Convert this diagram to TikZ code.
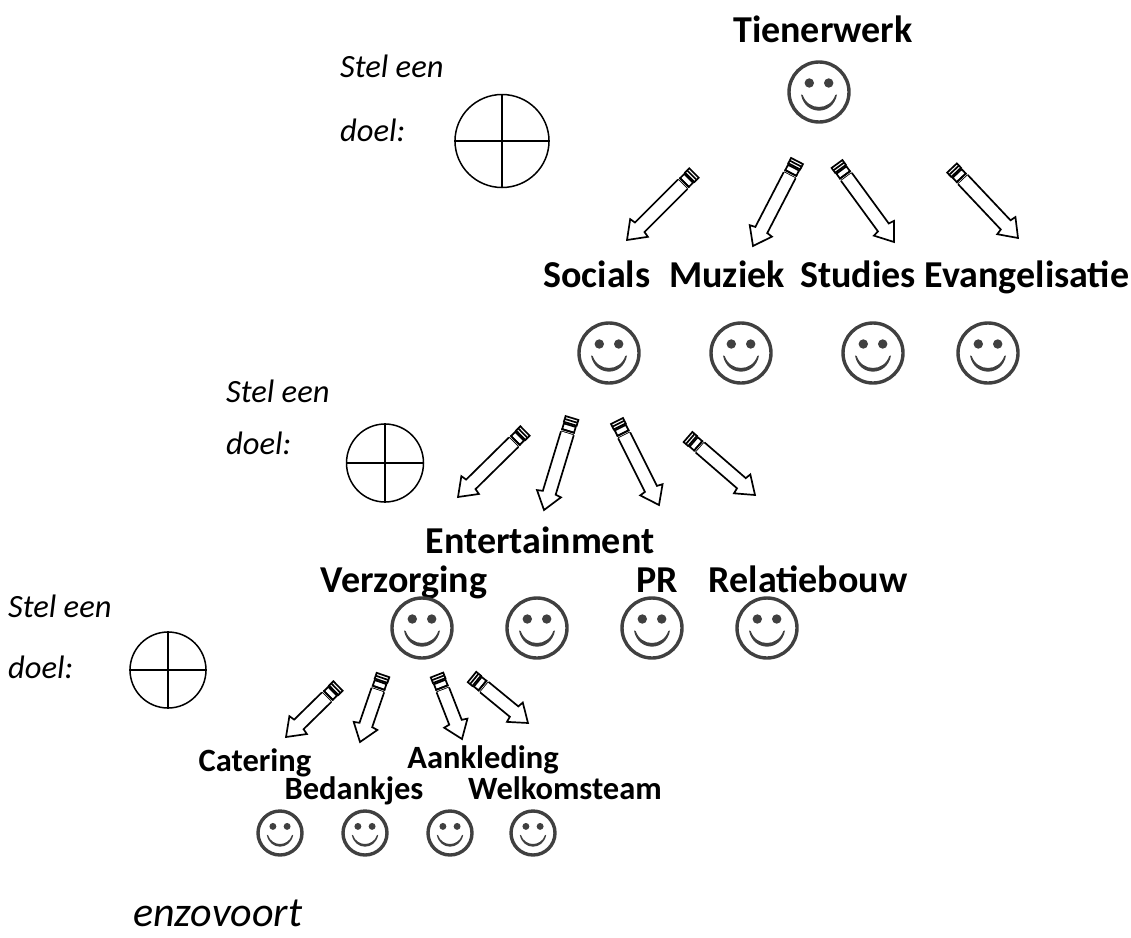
\documentclass[tikz,border=0pt]{standalone}
\usepackage{fontspec}
\setmainfont{Carlito}
\usetikzlibrary{shapes.geometric}
\newcommand{\Px}[1]{\fontsize{#1}{#1}\selectfont}
\newcommand{\penarrow}[7]{% name, x1,y1,x2,y2, head half width, shaft half width
  \coordinate (#1-tail) at (#2,-#3);
  \coordinate (#1-tip) at (#4,-#5);
  \pgfmathsetmacro\pang{atan2(-(#5-#3),#4-#2)}
  \pgfmathsetmacro\plen{veclen(#5-#3,#4-#2)}
  \begin{scope}[shift={(#1-tail)},rotate=\pang]
    \draw[penline] (0,-#7) rectangle (6,#7);
    \draw[penline] (3,-#7) -- (3,#7);
    \draw[penline] (7.5,-#7+0.5) rectangle (13.5,#7-0.5);
    \draw[penline] (13.5,-#7-0.3) -- (13.5,#7+0.3);
    \draw[penline] (16,#7) -- (16,-#7);
    \draw[penline] (16,#7) -- ({\plen-18},#7) -- ({\plen-17},#6) -- (\plen,0) -- ({\plen-17},-#6) -- ({\plen-18},-#7) -- (16,-#7);
  \end{scope}}
\newcommand{\smiley}[4]{% name,x,y,r
  \node[smileface,minimum size=#4*2pt] (#1) at (#2,-#3) {};
  \begin{scope}[shift={(#1.center)},x=#4/30*1pt,y=#4/30*1pt]
    \fill[smilecol] (-9.7,9) circle (4.7);
    \fill[smilecol] (9.7,9) circle (4.7);
    \fill[smilecol] (-18,-2.5) .. controls (-14,-24) and (14,-24) .. (18,-2.5)
       -- (16.3,-3) .. controls (11,-19) and (-11,-19) .. (-16.3,-3) -- cycle;
  \end{scope}}
\newcommand{\goalwheel}[5]{% name,x,y,rx,ry
  \node[wheel,minimum width=#4*2pt,minimum height=#5*2pt] (#1) at (#2,-#3) {};
  \draw[wheelline] (#1.north) -- (#1.south);
  \draw[wheelline] (#1.west) -- (#1.east);}
\definecolor{smilecol}{HTML}{404040}
\tikzset{
  x=1pt,y=1pt,
  penline/.style={draw=black,line width=1.7pt,line join=miter,fill=white},
  wheelline/.style={draw=black,line width=1.5pt},
  smileface/.style={circle,draw=smilecol,line width=3.4pt,inner sep=0pt,fill=white},
  wheel/.style={ellipse,draw=black,line width=1.5pt,inner sep=0pt},
  bigname/.style={anchor=base,inner sep=0pt,font=\Px{38}\bfseries},
  smallname/.style={anchor=base,inner sep=0pt,font=\Px{32.5}\bfseries},
  goal/.style={anchor=base west,inner sep=0pt,font=\Px{32.5}\itshape},
}
\begin{document}
\begin{tikzpicture}
\useasboundingbox (0,0) rectangle (1131,-937);
% names
\node[bigname] (tienerwerk) at (823,-42) {Tienerwerk};
\node[bigname] (socials) at (597,-287) {Socials};
\node[bigname] (muziek) at (727,-287) {Muziek};
\node[bigname] (studies) at (858,-287) {Studies};
\node[bigname] (evang) at (1027,-287) {Evangelisatie};
\node[bigname] (entert) at (540,-553) {Entertainment};
\node[bigname] (verz) at (404,-592) {Verzorging};
\node[bigname] (pr) at (657,-592) {PR};
\node[bigname] (relatie) at (808,-592) {Relatiebouw};
\node[smallname] (catering) at (255,-771) {Catering};
\node[smallname] (aankleding) at (483,-768) {Aankleding};
\node[smallname] (bedankjes) at (354,-799) {Bedankjes};
\node[smallname] (welkom) at (565,-799) {Welkomsteam};
% goals
\node[goal] (g1a) at (340,-77) {Stel een};
\node[goal] (g1b) at (340,-141) {doel:};
\node[goal] (g2a) at (226,-402) {Stel een};
\node[goal] (g2b) at (226,-454) {doel:};
\node[goal] (g3a) at (8,-617) {Stel een};
\node[goal] (g3b) at (8,-678) {doel:};
\node[goal,font=\Px{42}\itshape] (more) at (133,-926) {enzovoort};
% wheels
\goalwheel{w1}{502}{141}{47}{46.5}
\goalwheel{w2}{385}{463}{38.5}{39}
\goalwheel{w3}{168}{670}{38}{38}
% smileys
\smiley{s0}{819}{92}{30}
\smiley{s1}{609}{353}{30}
\smiley{s2}{741}{353}{30}
\smiley{s3}{873}{353}{30}
\smiley{s4}{988}{353}{30}
\smiley{s5}{422}{628}{30}
\smiley{s6}{537}{628}{30}
\smiley{s7}{652}{628}{30}
\smiley{s8}{767}{628}{30}
\smiley{s9}{280}{833}{22}
\smiley{s10}{365}{833}{22}
\smiley{s11}{450}{833}{22}
\smiley{s12}{533}{833}{22}
% arrows
\penarrow{a1}{694}{173}{627}{240}{12.5}{6.7}
\penarrow{a2}{797}{161}{753}{246}{12.5}{6.7}
\penarrow{a3}{837}{164}{894}{242}{12.5}{6.7}
\penarrow{a4}{952}{168}{1018}{238}{12.5}{6.7}
\penarrow{b1}{525}{431}{458}{497}{12.5}{6.7}
\penarrow{b2}{572}{418}{544}{510}{12.5}{6.7}
\penarrow{b3}{617}{421}{659}{505}{12.5}{6.7}
\penarrow{b4}{688}{437}{755}{495}{12.5}{6.7}
\penarrow{c1}{338}{686}{286}{737}{12.5}{6.7}
\penarrow{c2}{383}{675}{360}{742}{12.5}{6.7}
\penarrow{c3}{437}{675}{462}{739}{12.5}{6.7}
\penarrow{c4}{472}{677}{528}{723}{12.5}{6.7}
\end{tikzpicture}
\end{document}
